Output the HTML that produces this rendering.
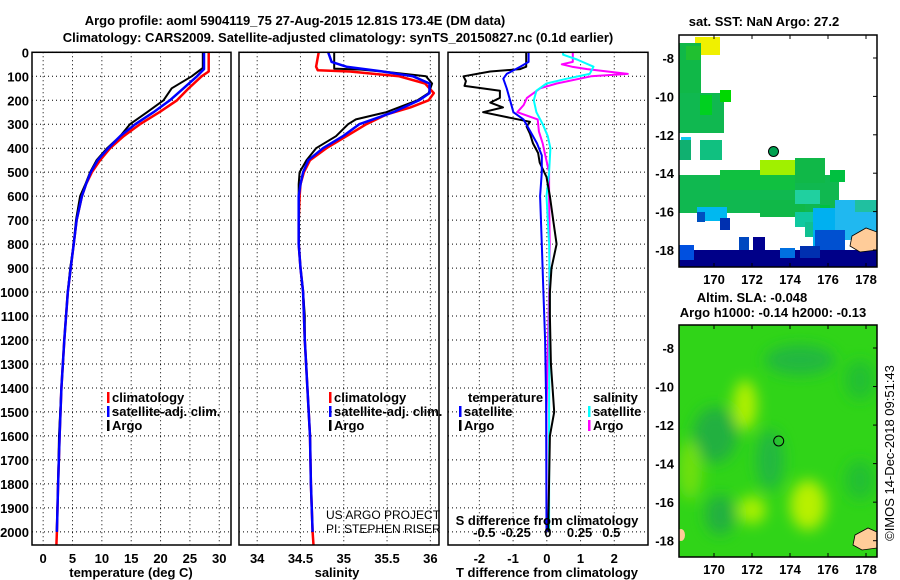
<!DOCTYPE html>
<html><head><meta charset="utf-8"><style>
body{margin:0;background:#fff}
svg{display:block}
text{font-family:"Liberation Sans",sans-serif;font-weight:bold;font-size:13px;fill:#000}
</style></head><body>
<svg id="c" width="900" height="580" viewBox="0 0 900 580">
<text x="295" y="25" text-anchor="middle">Argo profile: aoml 5904119_75 27-Aug-2015 12.81S 173.4E (DM data)</text>
<text x="338" y="42" text-anchor="middle">Climatology: CARS2009. Satellite-adjusted climatology: synTS_20150827.nc (0.1d earlier)</text>
<g id="plots"></g>
<g id="maps"></g>
</svg>
<script>
// ---- data ----
const depthA=[0,65,100,150,200,250,300,350,400,450,500,550,600,700,800,900,1000,1100,1200,1400,1600,1800,2000];
const tempArgo=[27.2,27.2,25.3,21.9,20.5,17.7,14.8,13.1,10.9,9.1,8.0,7.2,6.3,5.6,5.2,4.6,4.2,3.9,3.6,3.1,2.7,2.55,2.3];
const depthC=[0,80,100,150,200,250,300,350,400,450,500,550,600,700,800,900,1000,1200,1400,1600,1800,2000,2055];
const tempClim=[28.2,28.2,27.0,24.8,22.8,19.8,16.5,13.7,11.4,9.7,8.3,7.3,6.6,5.7,5.2,4.7,4.2,3.6,3.1,2.8,2.55,2.35,2.25];
const depthS=[0,70,100,150,200,250,300,350,400,450,500,550,600,700,800,900,1000,1200,1400,1600,1800,2000];
const tempSat=[27.4,27.4,26.2,23.9,21.6,18.8,15.7,13.1,11.1,9.3,8.1,7.3,6.6,5.7,5.2,4.7,4.2,3.6,3.1,2.8,2.55,2.35];
const sdepA=[0,68,72,80,100,130,170,200,250,280,300,350,400,450,500,550,600,800,900,1000,1100,1200,1400,1600,1800,2000];
const salArgo=[34.89,34.89,35.2,35.45,35.95,36.02,35.98,35.85,35.49,35.14,35.05,34.91,34.68,34.57,34.49,34.48,34.48,34.48,34.50,34.53,34.55,34.55,34.58,34.61,34.62,34.64];
const sdepC=[0,60,75,80,100,130,170,200,230,260,300,350,400,450,500,550,600,700,800,900,1000,1200,1400,1600,1800,2000,2055];
const salClim=[34.71,34.68,34.70,35.07,35.64,35.94,36.04,35.98,35.77,35.49,35.26,35.03,34.80,34.61,34.54,34.50,34.49,34.48,34.48,34.50,34.53,34.55,34.58,34.61,34.62,34.64,34.65];
const sdepS=[0,40,60,80,100,130,170,200,250,300,350,400,450,500,550,600,800,900,1000,1200,1400,1600,1800,2000];
const salSat=[34.82,34.86,35.03,35.45,35.80,35.99,35.99,35.87,35.57,35.18,34.99,34.76,34.59,34.53,34.50,34.48,34.48,34.50,34.53,34.55,34.58,34.61,34.62,34.64];
const ddepA=[0,60,70,80,100,120,140,160,190,210,230,250,270,290,310,340,380,420,460,520,600,700,800,900,1000,1100,1300,1500,1600,2000];
const dTArgo=[-0.61,-0.61,-0.79,-1.68,-2.47,-2.4,-2.44,-1.39,-1.39,-1.68,-1.3,-1.89,-1.2,-0.5,-0.6,-0.5,-0.41,-0.26,-0.21,-0.01,0.09,0.19,0.29,0.14,0.09,0.09,0.12,0.22,0.09,0.04];
const ddepS=[0,40,60,90,110,150,200,250,280,330,380,430,500,600,800,1000,1200,1450,2000];
const dTSat=[-0.54,-0.54,-0.79,-1.19,-1.29,-1.19,-1.09,-0.99,-0.69,-0.49,-0.29,-0.15,-0.15,-0.2,-0.15,-0.1,-0.05,-0.02,-0.01];
const sdd1=[0,40,50,60,70,90,100,130,150,190,220,250,280,330,380,430,500,600,800,1000,1500,2000];
const dSArgo=[0.197,0.197,0.11,0.19,0.31,0.63,0.34,0.07,-0.06,-0.165,-0.19,-0.24,-0.08,-0.07,-0.04,-0.02,0.01,0.01,0.015,0.01,-0.01,-0.01];
const sdd2=[0,10,30,60,90,110,130,160,200,250,300,350,400,500,600,800,1000,1500,2000];
const dSSat=[0.12,0.12,0.23,0.36,0.33,0.15,-0.01,-0.09,-0.11,-0.09,-0.04,0.0,0.02,0.01,-0.01,0.01,0.015,0.01,0.01];
const tTicks=[0,5,10,15,20,25,30];
const sTicks=[34,34.5,35,35.5,36];
const dTTicks=[-2,-1,0,1,2];
const dSTicks=[-0.5,-0.25,0,0.25,0.5];
const depthTicks=[0,100,200,300,400,500,600,700,800,900,1000,1100,1200,1300,1400,1500,1600,1700,1800,1900,2000];
const lonTicks=[170,172,174,176,178];
const latTicks=[-8,-10,-12,-14,-16,-18];

const NS='http://www.w3.org/2000/svg';
function mk(tag,attrs,parent,txt){const e=document.createElementNS(NS,tag);for(const k in attrs)e.setAttribute(k,attrs[k]);if(txt!==undefined)e.textContent=txt;parent.appendChild(e);return e;}
const plots=document.getElementById('plots');
const top0=52.3,bot=545,dmax=2055;
const y=d=>top0+d*(bot-top0)/dmax;
function xs(x0,x1,v0,v1){return v=>x0+(v-v0)*(x1-x0)/(v1-v0);}
const panels=[{l:32,r:231,v0:-1.9,v1:32.0,n:'temperature'},{l:239,r:439,v0:33.79,v1:36.10,n:'salinity'},{l:448,r:648,v0:-2.93,v1:3.0,n:'difference'}];
panels.forEach((p,i)=>{
  const g=mk('g',{},plots);
  
  
  p.x=xs(p.l,p.r,p.v0,p.v1);
  const vt=i==0?tTicks:i==1?sTicks:dTTicks;
  vt.forEach(t=>{const gl=mk('line',{x1:p.x(t),x2:p.x(t),y1:top0,y2:bot,stroke:'#000','stroke-width':1,'stroke-dasharray':'1,3'},g);});
  depthTicks.forEach(d=>{const gl=mk('line',{x1:p.l,x2:p.r,y1:y(d),y2:y(d),stroke:'#000','stroke-width':1,'stroke-dasharray':'1,3'},g);});
  p.g=g;
});
function line(p,ds,vs,col,w,name,xf){
  const f=xf||p.x;
  let pts=ds.map((d,k)=>f(vs[k]).toFixed(1)+','+y(d).toFixed(1)).join(' ');
  const e=mk('polyline',{points:pts,fill:'none',stroke:col,'stroke-width':w,'stroke-linejoin':'round'},p.g);
  
  
}
const P=panels;
line(P[0],depthC,tempClim,'#f00',2.5,'temp-climatology-line');
line(P[0],depthA,tempArgo,'#000',2,'temp-argo-line');
line(P[0],depthS,tempSat,'#00f',2.5,'temp-satellite-line');
line(P[1],sdepC,salClim,'#f00',2.5,'sal-climatology-line');
line(P[1],sdepA,salArgo,'#000',2,'sal-argo-line');
line(P[1],sdepS,salSat,'#00f',2.5,'sal-satellite-line');
const xS=xs(P[2].x(0)+1,P[2].x(0)+1+127,0,1);
line(P[2],sdd1,dSArgo,'#f0f',2,'dS-argo-line',xS);
line(P[2],sdd2,dSSat,'#0ff',2,'dS-satellite-line',xS);
line(P[2],ddepA,dTArgo,'#000',2,'dT-argo-line');
line(P[2],ddepS,dTSat,'#00f',2,'dT-satellite-line');
panels.forEach((p,i)=>{
  const fr=mk('rect',{x:p.l,y:top0,width:p.r-p.l,height:bot-top0,fill:'none',stroke:'#000','stroke-width':1.5},p.g);
  
  const vt=i==0?tTicks:i==1?sTicks:dTTicks;
  vt.forEach(t=>{const tx=mk('text',{x:p.x(t),y:563,'text-anchor':'middle'},p.g,String(t));});
});
depthTicks.forEach(d=>{const tx=mk('text',{x:29,y:y(d)+5,'text-anchor':'end'},plots,String(d));});
dSTicks.forEach(t=>{const tx=mk('text',{x:xS(t),y:y(2000)+5,'text-anchor':'middle'},plots,String(t));});
function lab(x,yy,t,name,anchor){const e=mk('text',{x:x,y:yy,'text-anchor':anchor||'middle'},plots,t);return e;}
lab(131,577,'temperature (deg C)','x-axis-title-temperature');
lab(337,577,'salinity','x-axis-title-salinity');
lab(547,577,'T difference from climatology','x-axis-title-T-diff');
lab(547,525,'S difference from climatology','s-diff-axis-title');
function leg(x,yy,col,t,name){const r=mk('rect',{x:x,y:yy-10,width:2.5,height:11,fill:col},plots);lab(x+5,yy,t,name,'start');}
leg(107,402,'#f00','climatology','legend-t-climatology');
leg(107,416,'#00f','satellite-adj. clim.','legend-t-satellite');
leg(107,430,'#000','Argo','legend-t-argo');
leg(329,402,'#f00','climatology','legend-s-climatology');
leg(329,416,'#00f','satellite-adj. clim.','legend-s-satellite');
leg(329,430,'#000','Argo','legend-s-argo');
lab(468,402,'temperature','legend-temperature-header','start');
leg(459,416,'#00f','satellite','legend-dT-satellite');
leg(459,430,'#000','Argo','legend-dT-argo');
lab(593,402,'salinity','legend-salinity-header','start');
leg(588,416,'#0ff','satellite','legend-dS-satellite');
leg(588,430,'#f0f','Argo','legend-dS-argo');
const c1=lab(326,519,'US ARGO PROJECT','credit-project','start');c1.style.fontWeight='normal';c1.style.fontSize='12px';
const c2=lab(326,533,'PI: STEPHEN RISER','credit-pi','start');c2.style.fontWeight='normal';c2.style.fontSize='12px';

// ---- maps ----
const maps=document.getElementById('maps');
function mapAxes(g,l,t,r,b,lat8,lat18){
  const lonx=xs(714,866,170,178);
  lonTicks.forEach(v=>{const e=mk('text',{x:lonx(v),y:b+17,'text-anchor':'middle'},g,String(v));
    mk('line',{x1:lonx(v),x2:lonx(v),y1:t,y2:t+4,stroke:'#000'},g);mk('line',{x1:lonx(v),x2:lonx(v),y1:b,y2:b-4,stroke:'#000'},g);});
  const laty=xs(lat8,lat18,-8,-18);
  latTicks.forEach(v=>{const e=mk('text',{x:l-5,y:laty(v)+5,'text-anchor':'end'},g,String(v));
    mk('line',{x1:r,x2:r-4,y1:laty(v),y2:laty(v),stroke:'#000'},g);});
  const fr=mk('rect',{x:l,y:t,width:r-l,height:b-t,fill:'none',stroke:'#000','stroke-width':1.5},g);
  
}
const defs=mk('defs',{},maps);
const fl=mk('filter',{id:'bl',x:'-50%',y:'-50%',width:'200%',height:'200%'},defs);mk('feGaussianBlur',{stdDeviation:7},fl);
const cp=mk('clipPath',{id:'cp2'},defs);mk('rect',{x:679,y:325,width:198,height:232},cp);
const cp1=mk('clipPath',{id:'cp1'},defs);mk('rect',{x:679,y:35,width:198,height:232},cp1);
const g1=mk('g',{},maps);
const cg1=mk('g',{'clip-path':'url(#cp1)'},g1);
[[695,37,25,18,'#f0f000'],[679,43,22,50,'#10b848'],[686,46,14,14,'#20c030'],[679,93,45,40,'#10b850'],[700,95,12,20,'#00d020'],[720,90,11,12,'#00d800'],[681,137,10,5,'#10c8f0'],[679,140,12,20,'#10b070'],[700,140,22,20,'#10c080'],
 [679,175,160,38,'#10b850'],[720,170,75,20,'#10c040'],[760,160,43,15,'#a0f000'],[795,158,30,25,'#10b848'],[830,170,15,12,'#00c040'],[760,200,45,17,'#10b848'],[795,190,25,14,'#20d0a0'],[820,205,10,12,'#00c040'],
 [697,207,30,14,'#00b8f0'],[697,212,8,10,'#0050c0'],[720,218,10,12,'#0030b0'],[795,212,20,15,'#10c8a0'],[805,222,20,15,'#10c090'],[813,208,22,40,'#00b0f0'],[835,200,42,40,'#20b8f0'],[855,200,22,12,'#20c0a0'],[815,230,30,20,'#0050d0'],
 [739,237,10,13,'#0048c0'],[753,237,12,15,'#000090'],[679,250,198,17,'#000088'],[800,246,20,12,'#0030b0'],[780,248,15,10,'#0070e0'],[679,245,15,15,'#0050e0']
].forEach(c=>mk('rect',{x:c[0],y:c[1],width:c[2],height:c[3],fill:c[4]},cg1));
mk('path',{d:'M852,236 L866,228 L877,232 L877,250 L860,252 L850,246 Z',fill:'#ffcc99',stroke:'#000','stroke-width':0.8},cg1);
const d1=mk('circle',{cx:773.5,cy:151.5,r:5,fill:'#00a050',stroke:'#000'},g1);
mapAxes(g1,679,35,877,267,58,250);
const g2=mk('g',{},maps);
const cg2=mk('g',{'clip-path':'url(#cp2)'},g2);
mk('rect',{x:679,y:325,width:198,height:232,fill:'#30d418'},cg2);
const bg=mk('g',{filter:'url(#bl)'},cg2);
[[745,405,12,25,'#b0f000'],[808,505,18,25,'#b8f000'],[752,510,14,14,'#a8f000'],[715,435,22,28,'#20b040'],[770,460,14,30,'#20b840'],[720,515,15,20,'#20b040'],[800,360,35,15,'#20b840'],[860,480,15,20,'#20c030'],[690,470,12,30,'#70e010'],[860,380,15,20,'#20c030']
].forEach(c=>mk('ellipse',{cx:c[0],cy:c[1],rx:c[2],ry:c[3],fill:c[4]},bg));
mk('path',{d:'M855,535 L868,528 L877,532 L877,548 L862,550 L853,545 Z',fill:'#ffcc99',stroke:'#000','stroke-width':0.8},cg2);
mk('ellipse',{cx:681,cy:535,rx:4,ry:6,fill:'#ffcc99'},cg2);
const d2=mk('circle',{cx:778.7,cy:441,r:5,fill:'none',stroke:'#000'},g2);
mapAxes(g2,679,325,877,557,348,540.7);
function mt(x,yy,t,name){const e=mk('text',{x:x,y:yy,'text-anchor':'middle'},maps,t);return e;}
mt(764,26,'sat. SST: NaN Argo: 27.2','sst-map-title');
mt(752,302,'Altim. SLA: -0.048','sla-map-title');
mt(773,317,'Argo h1000: -0.14 h2000: -0.13','argo-height-text');
const im=mk('text',{x:0,y:0,'text-anchor':'middle',transform:'translate(894,453) rotate(-90)'},maps,'©IMOS 14-Dec-2018 09:51:43');
im.style.fontWeight='normal';


</script>
</body></html>
